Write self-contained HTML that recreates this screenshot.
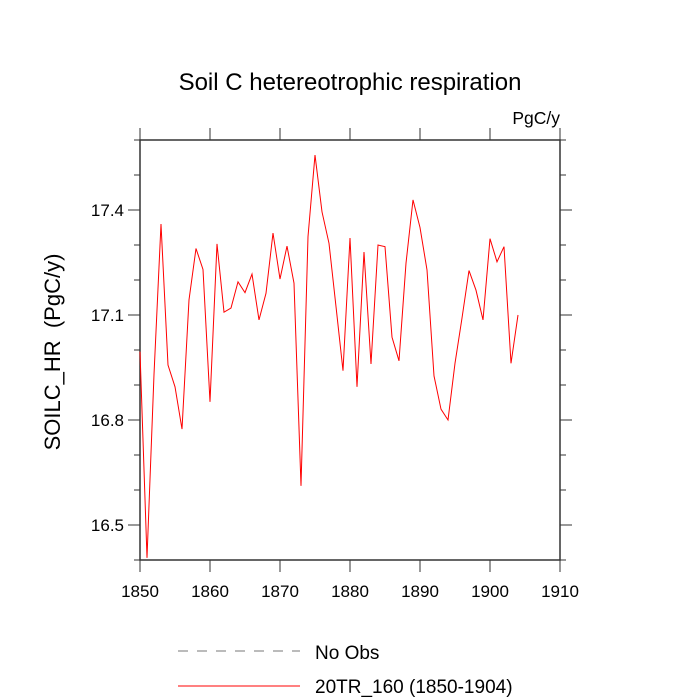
<!DOCTYPE html>
<html><head><meta charset="utf-8"><style>body{margin:0;background:#fff}svg{display:block;font-family:"Liberation Sans",sans-serif}</style></head>
<body>
<svg id="c" width="700" height="700">
<text x="350" y="90" font-size="24" text-anchor="middle">Soil C hetereotrophic respiration</text>
<text x="560" y="124" font-size="17.5" text-anchor="end">PgC/y</text>
<text transform="translate(60,352) rotate(-90)" font-size="22" text-anchor="middle">SOILC_HR&#160; (PgC/y)</text>
<g id="ax"></g>
<line x1="178" y1="651" x2="300" y2="651" stroke="#777" stroke-dasharray="10,9"/>
<text x="315" y="659" font-size="19">No Obs</text>
<line x1="178" y1="686" x2="300" y2="686" stroke="#f00"/>
<text x="315" y="693" font-size="19">20TR_160 (1850-1904)</text>
</svg>
<script>
const startYear=1850;
const values=[16.995,16.406,16.93,17.36,16.957,16.895,16.774,17.143,17.29,17.23,16.852,17.303,17.108,17.12,17.195,17.164,17.217,17.086,17.162,17.334,17.203,17.297,17.191,16.612,17.324,17.557,17.395,17.305,17.124,16.941,17.32,16.895,17.28,16.96,17.3,17.295,17.037,16.969,17.248,17.429,17.35,17.229,16.926,16.831,16.8,16.962,17.091,17.227,17.171,17.086,17.318,17.252,17.295,16.962,17.1];
const xTicks=[1850,1860,1870,1880,1890,1900,1910];
const yTicks=[16.5,16.8,17.1,17.4];
const X0=140,X1=560,Y0=140,Y1=560,xmin=1850,xmax=1910,ymin=16.4,ymax=17.6;
const sx=v=>X0+(v-xmin)/(xmax-xmin)*(X1-X0);
const sy=v=>Y1-(v-ymin)/(ymax-ymin)*(Y1-Y0);
const g=document.getElementById('ax');const NS='http://www.w3.org/2000/svg';
function el(t,a){const e=document.createElementNS(NS,t);for(const k in a)e.setAttribute(k,a[k]);g.appendChild(e);return e;}
let r=el('rect',{x:X0,y:Y0,width:X1-X0,height:Y1-Y0,fill:'none',stroke:'#333','stroke-width':1.5});


for(let v=16.4;v<=17.601;v+=0.1){const y=sy(v);const maj=yTicks.some(t=>Math.abs(t-v)<1e-6);const L=maj?12:6;
let a=el('line',{x1:X0-L,x2:X0,y1:y,y2:y,stroke:'#333'});
let b=el('line',{x1:X1,x2:X1+L,y1:y,y2:y,stroke:'#333'});}
yTicks.forEach(v=>{let t=el('text',{x:X0-16,y:sy(v)+6,'font-size':17,'text-anchor':'end'});t.textContent=v.toFixed(1);
});
xTicks.forEach(v=>{const x=sx(v);
let a=el('line',{x1:x,x2:x,y1:Y1,y2:Y1+12,stroke:'#333'});
let b=el('line',{x1:x,x2:x,y1:Y0-12,y2:Y0,stroke:'#333'});
let t=el('text',{x:x,y:Y1+37,'font-size':17,'text-anchor':'middle'});t.textContent=v;
});
const pts=values.map((v,i)=>sx(startYear+i).toFixed(1)+','+sy(v).toFixed(1)).join(' ');
let p=el('polyline',{points:pts,fill:'none',stroke:'#f00','stroke-width':1});


</script>
</body></html>
